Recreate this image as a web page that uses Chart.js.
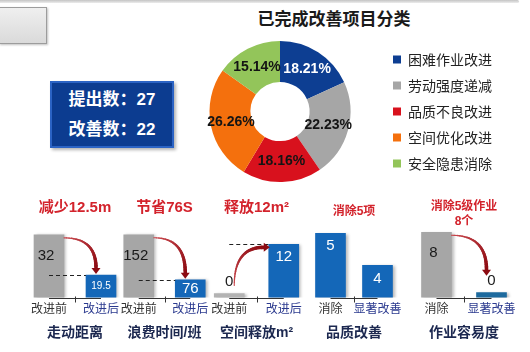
<!DOCTYPE html>
<html>
<head>
<meta charset="utf-8">
<title>改善项目</title>
<script src="https://cdn.jsdelivr.net/npm/chart.js@4.4.1/dist/chart.umd.min.js"></script>
<style>
  body { margin:0; width:530px; height:352px; position:relative; overflow:hidden; background:#fff;
         font-family:"Liberation Sans","Noto Sans CJK SC",sans-serif; }
  .topline { position:absolute; left:0; top:0; width:519px; height:3px; background:linear-gradient(#c4c4c4,#ececec); border-radius:0 2px 2px 0; }
  .graybox { position:absolute; left:-1px; top:7px; width:46px; height:35px; background:linear-gradient(#efefef,#dadada); border:1px solid #9c9c9c; box-shadow:1px 1px 2px rgba(0,0,0,.25); }
  .bluebox { position:absolute; left:50px; top:81px; width:120px; height:61px; padding-top:2px; background:#0c3c90; border:2px solid #2b63c4;
             box-shadow:2px 2px 3px rgba(0,0,0,.3); color:#fff; font-weight:bold; font-size:17px; text-align:center; }
  .bluebox div { height:30px; line-height:30px; }
  .pietitle { position:absolute; left:234px; width:200px; top:7px; text-align:center; font-weight:bold; font-size:17px;
              font-family:"Noto Sans CJK SC"; color:#1a1a1a; line-height:22px; }
  .box { position:absolute; }
</style>
</head>
<body>
<div class="topline"></div>
<div class="graybox"></div>
<div class="bluebox"><div>提出数：27</div><div>改善数：22</div></div>
<div class="pietitle">已完成改善项目分类</div>
<div class="box" style="left:179px;top:26px;width:323px;height:171px"><canvas id="pie"></canvas></div>

<script>
// doughnut data
const pieLabels = ['困难作业改进', '劳动强度递减', '品质不良改进', '空间优化改进', '安全隐患消除'];
const pieShares = [18.21, 22.23, 18.16, 26.26, 15.14];
const pieColors = ['#0d3e92', '#a6a6a6', '#d8111d', '#f4700d', '#93c55a'];

// small bar charts
const barTitles = ['减少12.5m', '节省76S', '释放12m²', '消除5项', ['消除5级作业', '8个']];
const groupNames = ['走动距离', '浪费时间/班', '空间释放m²', '品质改善', '作业容易度'];
const tickNames = [['改进前', '改进后'], ['改进前', '改进后'], ['改进前', '改进后'], ['消除', '显著改善'], ['消除', '显著改善']];
const barValues = [[32, 19.5], [152, 76], [0, 12], [5, 4], [8, 0]];

const FONT = '"Liberation Sans", "Noto Sans CJK SC", sans-serif';
const GRAY = '#a6a6a6', BLUE = '#1467b8', RED = '#d3232c', NAVY = '#1c2850';
Chart.defaults.font.family = FONT;

const pctLabels = {
  id: 'pctLabels',
  afterDatasetsDraw(chart) {
    const ctx = chart.ctx;
    ctx.save();
    ctx.font = 'bold 14px "Liberation Sans"';
    ctx.textAlign = 'center';
    ctx.textBaseline = 'middle';
    chart.getDatasetMeta(0).data.forEach((arc, i) => {
      const pt = arc.tooltipPosition();
      ctx.fillStyle = i === 0 ? '#fff' : '#141414';
      ctx.fillText(pieShares[i].toFixed(2) + '%', pt.x, pt.y);
    });
    ctx.restore();
  }
};

new Chart(document.getElementById('pie'), {
  type: 'doughnut',
  data: {
    labels: pieLabels,
    datasets: [{ data: pieShares, backgroundColor: pieColors, borderWidth: 0, radius: 70.5, cutout: '42%' }]
  },
  options: {
    responsive: true,
    maintainAspectRatio: false,
    animation: false,
    plugins: {
      legend: {
        position: 'right',
        labels: { boxWidth: 8, boxHeight: 8, padding: 12, color: '#222', font: { size: 14, family: '"Noto Sans CJK SC"' } }
      },
      tooltip: { enabled: false }
    }
  },
  plugins: [pctLabels]
});

// per panel layout + style
const panels = [
  { left: 23, width: 104, min: 12.5, max: 33.5, colors: [GRAY, BLUE], dark: [true, false], valueSize: [15, 10], dashed: true, arrow: true, tSize: 15, tPad: { top: 4, bottom: 13 } },
  { left: 113, width: 103, min: 46, max: 160, colors: [GRAY, BLUE], dark: [true, false], valueSize: [15, 15], dashed: true, arrow: true, tSize: 15, tPad: { top: 4, bottom: 13 } },
  { left: 202, width: 109, min: -1, max: 15.5, colors: ['#b3b3b3', BLUE], dark: [true, false], valueSize: [15, 15], dashed: true, arrow: true, tSize: 15, tPad: { top: 4, bottom: 13 } },
  { left: 307, width: 94, min: 3, max: 5.1, colors: [BLUE, BLUE], dark: [false, false], valueSize: [15, 15], dashed: false, arrow: false, tSize: 12, tPad: { top: 9.8, bottom: 10.8 } },
  { left: 409, width: 110, min: -0.65, max: 8.3, colors: [GRAY, '#1d6a9e'], dark: [true, true], valueSize: [15, 15], dashed: false, arrow: true, tSize: 12, tPad: { top: 4.5, bottom: 0.5 } }
];

function drawArrow(ctx, S, C, E) {
  const grad = ctx.createLinearGradient(S.x, S.y, E.x, E.y);
  grad.addColorStop(0, '#c9474d');
  grad.addColorStop(1, '#8c0b12');
  ctx.strokeStyle = grad;
  ctx.lineCap = 'round';
  const n = 24;
  let prev = S;
  for (let k = 1; k <= n; k++) {
    const t = k / n;
    const q = {
      x: (1 - t) * (1 - t) * S.x + 2 * (1 - t) * t * C.x + t * t * E.x,
      y: (1 - t) * (1 - t) * S.y + 2 * (1 - t) * t * C.y + t * t * E.y
    };
    ctx.lineWidth = 1 + 2.6 * t;
    ctx.beginPath();
    ctx.moveTo(prev.x, prev.y);
    ctx.lineTo(q.x, q.y);
    ctx.stroke();
    prev = q;
  }
  let dx = E.x - C.x, dy = E.y - C.y;
  const len = Math.hypot(dx, dy) || 1;
  dx /= len; dy /= len;
  ctx.fillStyle = '#8c0b12';
  ctx.beginPath();
  ctx.moveTo(E.x + dx * 6, E.y + dy * 6);
  ctx.lineTo(E.x - dy * 4.5, E.y + dx * 4.5);
  ctx.lineTo(E.x + dy * 4.5, E.y - dx * 4.5);
  ctx.closePath();
  ctx.fill();
}

function decor(p, i) {
  return {
    id: 'decor',
    beforeDatasetsDraw(chart) {
      const ctx = chart.ctx;
      const bars = chart.getDatasetMeta(0).data;
      const yb = Math.round(chart.chartArea.bottom) + 0.5;
      const mid = Math.round((bars[0].x + bars[1].x) / 2) + 0.5;
      ctx.save();
      ctx.strokeStyle = '#333';
      ctx.lineWidth = 1;
      ctx.beginPath();
      ctx.moveTo(bars[0].x, yb);
      ctx.lineTo(bars[1].x, yb);
      ctx.moveTo(mid, yb - 2);
      ctx.lineTo(mid, yb + 4);
      ctx.stroke();
      ctx.restore();
      ctx.save();
      ctx.shadowColor = 'rgba(0,0,0,0.28)';
      ctx.shadowOffsetX = 2;
      ctx.shadowOffsetY = 1;
      ctx.shadowBlur = 3;
    },
    afterDatasetsDraw(chart) {
      const ctx = chart.ctx;
      ctx.restore();
      const bars = chart.getDatasetMeta(0).data;
      const vals = barValues[i];
      ctx.save();
      // dashed guide at the level of the second bar
      if (p.dashed) {
        const y = Math.round(bars[1].y) + 0.5;
        ctx.strokeStyle = '#222';
        ctx.lineWidth = 1;
        ctx.setLineDash([4, 3]);
        ctx.beginPath();
        ctx.moveTo(bars[0].x, y);
        ctx.lineTo(bars[1].x - bars[1].width / 2, y);
        ctx.stroke();
        ctx.setLineDash([]);
      }
      // value labels
      ctx.textAlign = 'center';
      ctx.textBaseline = 'middle';
      bars.forEach((b, k) => {
        const h = b.base - b.y;
        let y, x = b.x;
        if (h < 10) y = b.y - 12;
        else if (h < 30) y = (b.y + b.base) / 2;
        else if (p.dark[k]) { y = b.y + 21; x = b.x - 3; }
        else y = b.y + 13;
        ctx.font = p.valueSize[k] + 'px "Liberation Sans"';
        ctx.fillStyle = (p.dark[k] || h < 10) ? '#1a1a1a' : '#fff';
        ctx.fillText(String(vals[k]), x, y);
      });
      // red curved arrow
      if (p.arrow) {
        const b0 = bars[0], b1 = bars[1];
        let S, C, E;
        if (vals[1] < vals[0]) {
          S = { x: b0.x + b0.width / 2, y: b0.y + 3 };
          E = { x: b1.x - 5, y: (b1.base - b1.y) < 10 ? b1.y - 23 : b1.y - 7 };
          C = { x: E.x, y: S.y };
        } else {
          S = { x: b0.x + 5, y: b0.y - 8 };
          E = { x: b1.x - b1.width / 2 - 5, y: b1.y + 3 };
          C = { x: S.x, y: E.y };
        }
        drawArrow(ctx, S, C, E);
      }
      ctx.restore();
    }
  };
}

panels.forEach((p, i) => {
  const wrap = document.createElement('div');
  wrap.className = 'box';
  wrap.style.cssText = `left:${p.left - 16}px;top:195px;width:${p.width + 32}px;height:150px`;
  const cv = document.createElement('canvas');
  wrap.appendChild(cv);
  document.body.appendChild(wrap);

  new Chart(cv, {
    type: 'bar',
    data: {
      labels: tickNames[i],
      datasets: [{ data: barValues[i], backgroundColor: p.colors, borderWidth: 0, barThickness: 30, base: p.min }]
    },
    options: {
      responsive: true,
      maintainAspectRatio: false,
      animation: false,
      layout: { padding: { left: 16, right: 16 } },
      scales: {
        x: {
          grid: { display: false, drawTicks: false },
          border: { display: false },
          ticks: {
            padding: 4, maxRotation: 0, minRotation: 0, autoSkip: false,
            font: { size: 12, family: '"Noto Sans CJK SC"' },
            color: c => c.index === 0 ? '#333' : '#2b3a8f'
          }
        },
        y: { display: false, min: p.min, max: p.max }
      },
      plugins: {
        legend: { display: false },
        tooltip: { enabled: false },
        title: {
          display: true, text: barTitles[i], color: RED,
          font: { size: p.tSize, weight: 'bold', family: FONT, lineHeight: i === 4 ? 1.25 : 1.2 },
          padding: p.tPad
        },
        subtitle: {
          display: true, position: 'bottom', text: groupNames[i], color: NAVY,
          font: { size: 14, weight: 'bold', family: FONT },
          padding: { top: 4.6, bottom: 3.6 }
        }
      }
    },
    plugins: [decor(p, i)]
  });
});
</script>
</body>
</html>
